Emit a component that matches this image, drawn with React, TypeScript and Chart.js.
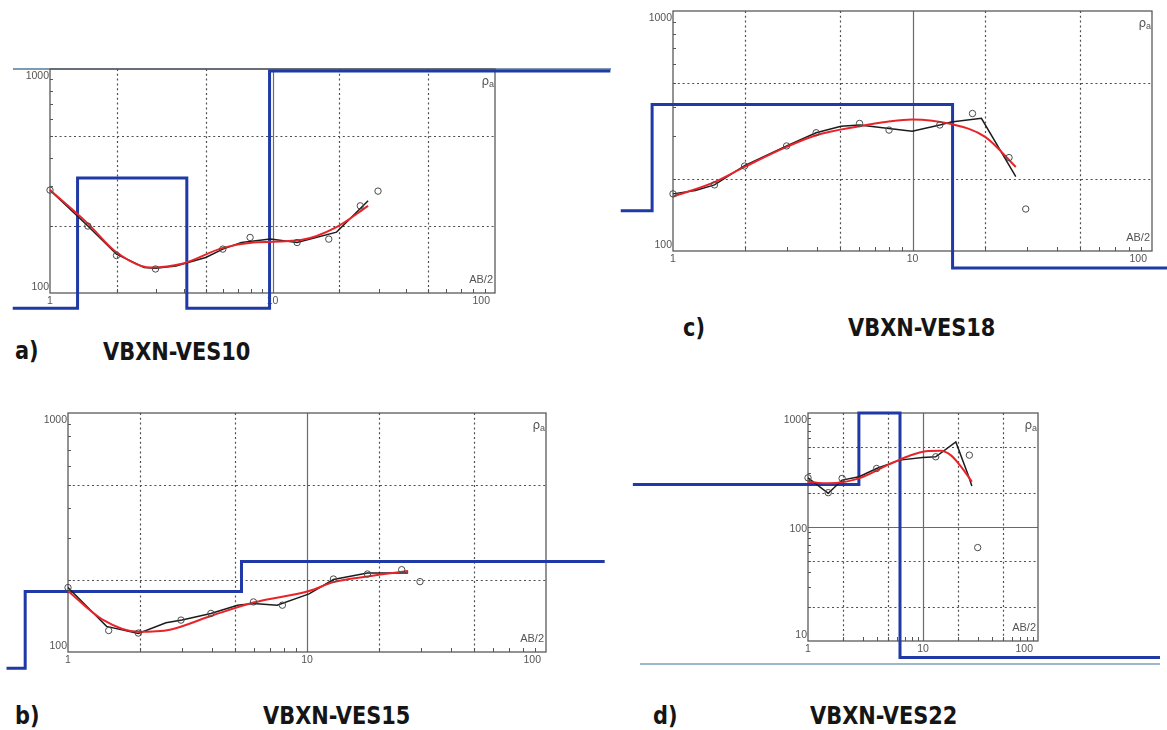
import React, { useEffect, useRef } from "react";
import { Chart, registerables } from "chart.js";

Chart.register(...registerables);

// ---------- DATA (AB/2 in m, apparent resistivity in ohm.m) ----------
// Panel a) VBXN-VES10
const A_OBS_AB2 = [1, 1.48, 1.99, 2.98, 5.98, 7.93, 12.9, 17.9, 24.8, 29.8];
const A_OBS_RHO = [288, 199, 147, 128, 157, 177, 168, 174, 245, 285];
const A_FIELD_AB2 = [1, 1.48, 1.99, 2.65, 2.98, 3.68, 5.01, 5.98, 7.25, 9.78, 12.9, 19.4, 26.9];
const A_FIELD_RHO = [288, 199, 149, 130, 129, 132, 144, 157, 168, 174, 168, 187, 258];
const A_CALC_AB2 = [1, 1.48, 1.99, 2.82, 3.92, 5.98, 8.2, 13.4, 19.4, 26.9];
const A_CALC_RHO = [288, 204, 152, 130, 135, 159, 168, 172.5, 197, 245];
const A_LAYER_AB2 = [0.68, 1.33, 4.12, 9.7, 330];
const A_LAYER_RHO = [85.6, 326, 85.6, 980, 980];

// Panel b) VBXN-VES15
const B_OBS_AB2 = [1, 1.48, 1.97, 2.97, 3.96, 5.97, 7.89, 12.9, 17.9, 24.9, 29.7];
const B_OBS_RHO = [186, 123, 120, 136, 145, 162, 157, 202, 212, 221, 197];
const B_FIELD_AB2 = [1, 1.45, 1.97, 2.57, 3.0, 3.96, 5.12, 5.97, 7.5, 10.2, 12.9, 17.9, 26.5];
const B_FIELD_RHO = [186, 128, 119.6, 132.6, 136, 145, 157, 159.5, 157, 175, 201, 214, 214];
const B_CALC_AB2 = [1, 1.39, 1.97, 2.67, 3.96, 5.97, 10.2, 12.9, 17.9, 26.5];
const B_CALC_RHO = [180, 137, 121.5, 124, 141.5, 161, 180, 196, 207, 218];
const B_LAYER_AB2 = [0.553, 0.662, 5.32, 176];
const B_LAYER_RHO = [85.5, 179, 239, 239];

// Panel c) VBXN-VES18
const C_OBS_AB2 = [1, 1.49, 1.99, 2.98, 3.96, 6.01, 7.98, 13.0, 17.8, 25.3, 29.7];
const C_OBS_RHO = [173, 188.6, 226, 274, 311, 340, 319, 335, 374, 245, 149.6];
const C_FIELD_AB2 = [1, 1.24, 1.49, 1.99, 2.98, 3.96, 5.03, 6.01, 7.98, 9.97, 13.0, 14.5, 19.4, 27.0];
const C_FIELD_RHO = [173, 178.6, 188.6, 227, 274, 311, 331, 335, 324, 315.8, 335, 345, 357, 204];
const C_CALC_AB2 = [1, 1.49, 1.99, 2.98, 3.96, 6.01, 7.85, 9.97, 14.5, 20.1, 27.0];
const C_CALC_RHO = [168.5, 193.5, 224, 271.5, 303.8, 331, 345.6, 353.4, 338, 299, 224];
const C_LAYER_AB2 = [0.605, 0.818, 14.7, 116];
const C_LAYER_RHO = [147, 408, 85, 85];

// Panel d) VBXN-VES22
const D_OBS_AB2 = [1, 1.5, 1.98, 3.95, 12.9, 25.3, 29.9];
const D_OBS_RHO = [270, 200, 267, 326, 413, 427, 66];
const D_FIELD_AB2 = [1, 1.5, 1.98, 2.78, 3.95, 6.26, 9.9, 12.9, 19.3, 24.7, 26.6];
const D_FIELD_RHO = [270, 197.5, 258, 276, 326, 386, 407, 413, 558, 285.6, 229];
const D_CALC_AB2 = [1, 1.5, 2.78, 5.06, 7.46, 10.6, 14.1, 17.4, 21.5, 26.6];
const D_CALC_RHO = [249.6, 241.5, 267, 354, 418, 462, 466, 427, 337, 249.6];
const D_LAYER_AB2 = [0.03, 2.77, 6.31, 1150];
const D_LAYER_RHO = [236, 1000, 7.15, 7.15];

// Tick labels & grid values
const X_TICK_LABELS = [1, 10, 100];
const Y_TICK_LABELS = [100, 1000];
const Y_TICK_LABELS_D = [10, 100, 1000];
const X_DOTTED = [2, 5, 20, 50];
const X_SOLID = [10];
const Y_DOTTED = [200, 500];
const Y_DOTTED_D = [20, 50, 200, 500];
const Y_SOLID_D = [100];

const BLUE = "#1f3aa6";
const RED = "#e8242a";
const BLACK = "#1c1c1c";
const AXIS_GRAY = "#5a5a5a";

type Spec = {
  left: number; top: number; w: number; h: number;
  frame: { l: number; t: number; r: number; b: number };
  yMin: number; yMax: number;
  obsX: number[]; obsY: number[];
  fieldX: number[]; fieldY: number[];
  calcX: number[]; calcY: number[];
  layerX: number[]; layerY: number[];
  yLabels: number[]; yDotted: number[]; ySolid: number[];
};

const PANELS: Spec[] = [
  {
    left: 0, top: 40, w: 620, h: 280,
    frame: { l: 50, t: 69, r: 495, b: 293 },
    yMin: 100, yMax: 1000,
    obsX: A_OBS_AB2, obsY: A_OBS_RHO, fieldX: A_FIELD_AB2, fieldY: A_FIELD_RHO,
    calcX: A_CALC_AB2, calcY: A_CALC_RHO, layerX: A_LAYER_AB2, layerY: A_LAYER_RHO,
    yLabels: Y_TICK_LABELS, yDotted: Y_DOTTED, ySolid: [],
  },
  {
    left: 612, top: 0, w: 555, h: 290,
    frame: { l: 673, t: 11, r: 1152, b: 251 },
    yMin: 100, yMax: 1000,
    obsX: C_OBS_AB2, obsY: C_OBS_RHO, fieldX: C_FIELD_AB2, fieldY: C_FIELD_RHO,
    calcX: C_CALC_AB2, calcY: C_CALC_RHO, layerX: C_LAYER_AB2, layerY: C_LAYER_RHO,
    yLabels: Y_TICK_LABELS, yDotted: Y_DOTTED, ySolid: [],
  },
  {
    left: 0, top: 395, w: 620, h: 285,
    frame: { l: 68, t: 413, r: 546, b: 652 },
    yMin: 100, yMax: 1000,
    obsX: B_OBS_AB2, obsY: B_OBS_RHO, fieldX: B_FIELD_AB2, fieldY: B_FIELD_RHO,
    calcX: B_CALC_AB2, calcY: B_CALC_RHO, layerX: B_LAYER_AB2, layerY: B_LAYER_RHO,
    yLabels: Y_TICK_LABELS, yDotted: Y_DOTTED, ySolid: [],
  },
  {
    left: 612, top: 395, w: 555, h: 280,
    frame: { l: 808, t: 413, r: 1038, b: 641 },
    yMin: 10, yMax: 1000,
    obsX: D_OBS_AB2, obsY: D_OBS_RHO, fieldX: D_FIELD_AB2, fieldY: D_FIELD_RHO,
    calcX: D_CALC_AB2, calcY: D_CALC_RHO, layerX: D_LAYER_AB2, layerY: D_LAYER_RHO,
    yLabels: Y_TICK_LABELS_D, yDotted: Y_DOTTED_D, ySolid: Y_SOLID_D,
  },
];

const X_MIN = 1;
const X_MAX = 100;

function framePlugin(p: Spec) {
  return {
    id: "vesFrame",
    beforeDatasetsDraw(chart: any) {
      const { ctx, chartArea: a, scales } = chart;
      const x = scales.x;
      const y = scales.y;
      ctx.save();
      const vline = (v: number) => {
        const px = Math.round(x.getPixelForValue(v)) + 0.5;
        ctx.beginPath(); ctx.moveTo(px, a.top); ctx.lineTo(px, a.bottom); ctx.stroke();
      };
      const hline = (v: number) => {
        const py = Math.round(y.getPixelForValue(v)) + 0.5;
        ctx.beginPath(); ctx.moveTo(a.left, py); ctx.lineTo(a.right, py); ctx.stroke();
      };
      // dotted grid
      ctx.strokeStyle = "#4f4f4f";
      ctx.lineWidth = 1.2;
      ctx.setLineDash([2, 2.8]);
      X_DOTTED.forEach(vline);
      p.yDotted.forEach(hline);
      ctx.setLineDash([]);
      // solid grid
      ctx.strokeStyle = "#6a6a6a";
      ctx.lineWidth = 1.2;
      X_SOLID.forEach(vline);
      p.ySolid.forEach(hline);
      // frame
      ctx.strokeStyle = AXIS_GRAY;
      ctx.lineWidth = 1.3;
      ctx.strokeRect(a.left, a.top, a.right - a.left, a.bottom - a.top);
      // minor ticks
      ctx.lineWidth = 1;
      ctx.strokeStyle = "#555";
      for (let d = X_MIN; d < X_MAX; d *= 10) {
        for (let m = 2; m <= 9; m++) {
          const px = Math.round(x.getPixelForValue(d * m)) + 0.5;
          ctx.beginPath(); ctx.moveTo(px, a.bottom); ctx.lineTo(px, a.bottom - 4); ctx.stroke();
        }
      }
      for (let d = p.yMin; d < p.yMax; d *= 10) {
        for (let m = 2; m <= 9; m++) {
          const py = Math.round(y.getPixelForValue(d * m)) + 0.5;
          ctx.beginPath(); ctx.moveTo(a.left, py); ctx.lineTo(a.left + 3, py); ctx.stroke();
        }
      }
      // tick labels
      ctx.fillStyle = "#555";
      ctx.font = '10.5px "Liberation Sans Narrow", "Liberation Sans", Arial, sans-serif';
      ctx.textAlign = "right";
      p.yLabels.forEach((v) => {
        let py = y.getPixelForValue(v);
        if (v === p.yMax) { ctx.textBaseline = "top"; py = a.top + 2; }
        else if (v === p.yMin) { ctx.textBaseline = "bottom"; py = a.bottom - 1; }
        else { ctx.textBaseline = "middle"; py = py + 2; }
        ctx.fillText(String(v), a.left - 1, py);
      });
      ctx.textBaseline = "top";
      X_TICK_LABELS.forEach((v) => {
        let px = x.getPixelForValue(v);
        if (v === X_MAX) { ctx.textAlign = "right"; px = a.right - 5; }
        else { ctx.textAlign = "center"; }
        ctx.fillText(String(v), px, a.bottom + 3);
      });
      // axis names
      ctx.font = '11px "Liberation Sans", Arial, sans-serif';
      ctx.textAlign = "right";
      ctx.textBaseline = "bottom";
      ctx.fillText("AB/2", a.right - 2, a.bottom - 8);
      ctx.font = '9px "Liberation Sans", Arial, sans-serif';
      const aw = ctx.measureText("a").width;
      ctx.textBaseline = "alphabetic";
      ctx.fillText("a", a.right - 1, a.top + 18);
      ctx.font = '12px "DejaVu Sans", "Liberation Sans", sans-serif';
      ctx.fillText("ρ", a.right - 1 - aw, a.top + 16);
      ctx.restore();
    },
  };
}

const pts = (xs: number[], ys: number[]) => xs.map((v, i) => ({ x: v, y: ys[i] }));

function VesPanel({ p }: { p: Spec }) {
  const ref = useRef<HTMLCanvasElement>(null);
  useEffect(() => {
    const canvas = ref.current!;
    const chart = new Chart(canvas, {
      type: "line",
      data: {
        datasets: [
          {
            label: "Observed",
            data: pts(p.obsX, p.obsY),
            showLine: false,
            pointRadius: 3.2,
            pointBorderWidth: 1,
            pointBorderColor: "#4a4a4a",
            pointBackgroundColor: "rgba(255,255,255,0)",
            order: 0,
          },
          {
            label: "Calculated",
            data: pts(p.calcX, p.calcY),
            borderColor: RED,
            borderWidth: 2,
            pointRadius: 0,
            cubicInterpolationMode: "monotone",
            order: 1,
          },
          {
            label: "Field curve",
            data: pts(p.fieldX, p.fieldY),
            borderColor: BLACK,
            borderWidth: 1.5,
            pointRadius: 0,
            tension: 0,
            order: 2,
          },
          {
            label: "Layer model",
            data: pts(p.layerX, p.layerY),
            borderColor: BLUE,
            borderWidth: 3,
            pointRadius: 0,
            stepped: true,
            clip: false,
            order: 3,
          },
        ],
      } as any,
      options: {
        animation: false,
        responsive: false,
        maintainAspectRatio: false,
        devicePixelRatio: 1,
        events: [],
        layout: {
          padding: {
            left: p.frame.l - p.left,
            top: p.frame.t - p.top,
            right: p.left + p.w - p.frame.r,
            bottom: p.top + p.h - p.frame.b,
          },
        },
        plugins: { legend: { display: false }, tooltip: { enabled: false }, title: { display: false } },
        scales: {
          x: {
            type: "logarithmic",
            bounds: "data",
            display: false,
            afterDataLimits: (s: any) => { s.min = X_MIN; s.max = X_MAX; },
          },
          y: { type: "logarithmic", min: p.yMin, max: p.yMax, display: false },
        },
      } as any,
      plugins: [framePlugin(p)],
    });
    return () => chart.destroy();
  }, [p]);
  return (
    <canvas
      ref={ref}
      width={p.w}
      height={p.h}
      style={{ position: "absolute", left: p.left, top: p.top, width: p.w, height: p.h }}
    />
  );
}

const CAPTIONS = [
  { t: "a)", x: 15, cy: 351 },
  { t: "VBXN-VES10", x: 103, cy: 352 },
  { t: "c)", x: 683, cy: 328 },
  { t: "VBXN-VES18", x: 848, cy: 328 },
  { t: "b)", x: 15, cy: 716 },
  { t: "VBXN-VES15", x: 263, cy: 716 },
  { t: "d)", x: 653, cy: 716 },
  { t: "VBXN-VES22", x: 810, cy: 716 },
];

export default function App() {
  return (
    <div style={{ position: "absolute", left: 0, top: 0, width: 1167, height: 730, background: "#fff", overflow: "hidden" }}>
      <div style={{ position: "absolute", left: 13, top: 68, width: 598, height: 2, background: "#7f9bb3" }} />
      <div style={{ position: "absolute", left: 640, top: 663, width: 520, height: 2, background: "#9db8cb" }} />
      {PANELS.map((p, i) => (
        <VesPanel key={i} p={p} />
      ))}
      {CAPTIONS.map((c, i) => (
        <div
          key={i}
          style={{
            position: "absolute",
            left: c.x,
            top: c.cy - 14,
            fontFamily: '"Liberation Sans Narrow", "DejaVu Sans Condensed", "Liberation Sans", sans-serif',
            fontWeight: "bold",
            fontSize: 25,
            lineHeight: "28px",
            color: "#151515",
            whiteSpace: "nowrap",
            transform: "scaleX(0.93)",
            transformOrigin: "left center",
          }}
        >
          {c.t}
        </div>
      ))}
    </div>
  );
}
